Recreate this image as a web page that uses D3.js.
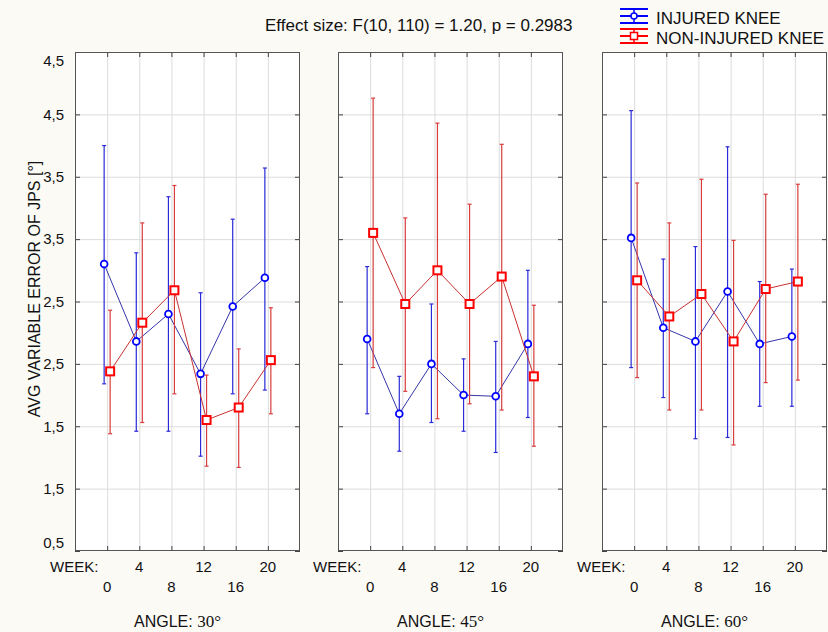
<!DOCTYPE html>
<html>
<head>
<meta charset="utf-8">
<script src="https://cdn.jsdelivr.net/npm/d3@7"></script>
<style>
  body { margin: 0; background: #fcfaf5; }
  svg { display: block; font-family: "Liberation Sans", Arial, sans-serif; }
  .grid line { stroke: #dcdcdc; }
  .grid path { display: none; }
  .tk line { stroke: #444; }
  .tk path { display: none; }
</style>
</head>
<body>
<svg id="chart"></svg>
<script>
var width = 828, height = 632;

// data
var weeks = [0, 4, 8, 12, 16, 20];
var angles = ["30°", "45°", "60°"];
var yTicks = [0.5, 1, 1.5, 2, 2.5, 3, 3.5, 4, 4.5];
var yTickLabels = ["0,5", "1,5", "1,5", "2,5", "2,5", "3,5", "3,5", "4,5", "4,5"];

// one row per angle (30, 45, 60)
var injuredMean = [
    [2.80, 2.18, 2.40, 1.92, 2.46, 2.69],
    [2.20, 1.60, 2.00, 1.75, 1.74, 2.16],
    [3.01, 2.29, 2.18, 2.58, 2.16, 2.22]
];
var injuredHigh = [
    [3.75, 2.89, 3.34, 2.57, 3.16, 3.57],
    [2.78, 1.90, 2.48, 2.04, 2.18, 2.75],
    [4.03, 2.84, 2.94, 3.74, 2.66, 2.76]
];
var injuredLow = [
    [1.84, 1.46, 1.46, 1.26, 1.76, 1.79],
    [1.60, 1.30, 1.53, 1.46, 1.29, 1.57],
    [1.97, 1.73, 1.40, 1.41, 1.66, 1.66]
];
var nonInjuredMean = [
    [1.94, 2.33, 2.59, 1.55, 1.65, 2.03],
    [3.05, 2.48, 2.75, 2.48, 2.70, 1.90],
    [2.67, 2.38, 2.56, 2.18, 2.60, 2.66]
];
var nonInjuredHigh = [
    [2.43, 3.13, 3.43, 1.91, 2.12, 2.45],
    [4.13, 3.17, 3.93, 3.28, 3.76, 2.47],
    [3.45, 3.13, 3.48, 2.99, 3.36, 3.44]
];
var nonInjuredLow = [
    [1.44, 1.53, 1.76, 1.18, 1.17, 1.60],
    [1.97, 1.78, 1.56, 1.68, 1.63, 1.34],
    [1.89, 1.63, 1.63, 1.35, 1.85, 1.87]
];

var panelLeft = [75, 338, 602];
var panelW = 225, plotTop = 52, plotBottom = 551;

var svg = d3.select("#chart")
    .attr("width", width)
    .attr("height", height);

var y = d3.scaleLinear().domain([0.5, 4.5]).range([plotBottom, plotTop]);

var series = [
    {name: "INJURED KNEE", mean: injuredMean, hi: injuredHigh, lo: injuredLow,
     color: "#0000ff", bar: "#2a2ad8", line: "#3535a8", shift: -3, shape: "circle"},
    {name: "NON-INJURED KNEE", mean: nonInjuredMean, hi: nonInjuredHigh, lo: nonInjuredLow,
     color: "#ff0000", bar: "#d83c3c", line: "#c83030", shift: 3, shape: "square"}
];

angles.forEach(function(angle, p) {
    var x0 = panelLeft[p];
    var x = d3.scalePoint().domain(weeks).range([x0, x0 + panelW]).padding(1);
    var g = svg.append("g");

    g.append("rect")
        .attr("x", x0).attr("y", plotTop)
        .attr("width", panelW).attr("height", plotBottom - plotTop)
        .attr("fill", "#fff");

    // gridlines
    g.append("g").attr("class", "grid")
        .attr("transform", `translate(${x0},0)`)
        .call(d3.axisLeft(y).tickValues(yTicks.slice(1, -1)).tickSize(-panelW).tickFormat(""));
    g.append("g").attr("class", "grid")
        .attr("transform", `translate(0,${plotBottom})`)
        .call(d3.axisBottom(x).tickSize(-(plotBottom - plotTop)).tickFormat(""));

    // inward ticks on all four sides
    g.append("g").attr("class", "tk").attr("transform", `translate(${x0},0)`)
        .call(d3.axisLeft(y).tickValues(yTicks).tickSize(-5).tickFormat(""));
    g.append("g").attr("class", "tk").attr("transform", `translate(${x0 + panelW},0)`)
        .call(d3.axisRight(y).tickValues(yTicks).tickSize(-5).tickFormat(""));
    g.append("g").attr("class", "tk").attr("transform", `translate(0,${plotTop})`)
        .call(d3.axisTop(x).tickSize(-5).tickFormat(""));
    g.append("g").attr("class", "tk").attr("transform", `translate(0,${plotBottom})`)
        .call(d3.axisBottom(x).tickSize(-5).tickFormat(""));

    g.append("rect")
        .attr("x", x0 + 0.5).attr("y", plotTop + 0.5)
        .attr("width", panelW - 1).attr("height", plotBottom - plotTop - 1)
        .attr("fill", "none").attr("stroke", "#555");

    series.forEach(function(s) {
        var pts = weeks.map(function(w, i) {
            return {x: x(w) + s.shift, m: s.mean[p][i], hi: s.hi[p][i], lo: s.lo[p][i]};
        });
        var sg = g.append("g");
        // error bars
        var eb = sg.selectAll(".eb").data(pts).enter().append("g")
            .attr("stroke", s.bar).attr("stroke-width", 1.2);
        eb.append("line")
            .attr("x1", d => d.x).attr("x2", d => d.x)
            .attr("y1", d => y(d.hi)).attr("y2", d => y(d.lo));
        eb.append("line")
            .attr("x1", d => d.x - 2).attr("x2", d => d.x + 2)
            .attr("y1", d => y(d.hi)).attr("y2", d => y(d.hi));
        eb.append("line")
            .attr("x1", d => d.x - 2).attr("x2", d => d.x + 2)
            .attr("y1", d => y(d.lo)).attr("y2", d => y(d.lo));
        // connecting line
        sg.append("path")
            .datum(pts)
            .attr("fill", "none").attr("stroke", s.line).attr("stroke-width", 1)
            .attr("d", d3.line().x(d => d.x).y(d => y(d.m)));
        // markers
        if (s.shape == "circle") {
            sg.selectAll(".mk").data(pts).enter().append("circle")
                .attr("cx", d => d.x).attr("cy", d => y(d.m)).attr("r", 3.4)
                .attr("fill", "#fff").attr("stroke", s.color).attr("stroke-width", 1.8);
        } else {
            sg.selectAll(".mk").data(pts).enter().append("rect")
                .attr("x", d => d.x - 4).attr("y", d => y(d.m) - 4)
                .attr("width", 8).attr("height", 8)
                .attr("fill", "#fff").attr("stroke", s.color).attr("stroke-width", 2);
        }
    });

    // x labels, staggered in two rows
    g.append("text")
        .attr("x", x0 - 25).attr("y", 572)
        .attr("font-size", 15).attr("fill", "#111")
        .text("WEEK:");
    g.selectAll(".wk").data(weeks).enter().append("text")
        .attr("x", d => x(d))
        .attr("y", (d, i) => i % 2 ? 572 : 592)
        .attr("text-anchor", "middle")
        .attr("font-size", 15).attr("fill", "#111")
        .text(d => d);

    var at = g.append("text")
        .attr("x", x0 + panelW / 2 - 10).attr("y", 627)
        .attr("text-anchor", "middle")
        .attr("font-size", 16).attr("fill", "#111");
    at.append("tspan").text("ANGLE: ");
    at.append("tspan")
        .attr("font-family", "'Liberation Serif', 'Times New Roman', serif")
        .attr("font-size", 17)
        .text(angle);
});

// y tick labels on first panel
svg.append("g").selectAll("text").data(yTicks).enter().append("text")
    .attr("x", 64)
    .attr("y", d => y(d))
    .attr("dy", (d, i) => i == 0 ? "-0.2em" : (i == yTicks.length - 1 ? "0.9em" : "0.35em"))
    .attr("text-anchor", "end")
    .attr("font-size", 15).attr("fill", "#111")
    .text((d, i) => yTickLabels[i]);

svg.append("text")
    .attr("transform", "translate(40,289) rotate(-90)")
    .attr("text-anchor", "middle")
    .attr("font-size", 16).attr("fill", "#111")
    .text("AVG VARIABLE ERROR OF JPS [°]");

svg.append("text")
    .attr("x", 265).attr("y", 31)
    .attr("font-size", 17).attr("fill", "#111")
    .text("Effect size: F(10, 110) = 1.20, p = 0.2983");

// legend
var leg = svg.append("g").selectAll("g").data(series).enter().append("g")
    .attr("transform", (d, i) => `translate(620,${16 + i * 20})`);
leg.each(function(s) {
    var l = d3.select(this);
    [-7, 0, 7].forEach(function(dy) {
        l.append("line").attr("x1", 0).attr("x2", 28).attr("y1", dy).attr("y2", dy)
            .attr("stroke", s.color).attr("stroke-width", 2);
    });
    l.append("line").attr("x1", 14).attr("x2", 14).attr("y1", -7).attr("y2", 7)
        .attr("stroke", s.color).attr("stroke-width", 1.5);
    if (s.shape == "circle") {
        l.append("circle").attr("cx", 14).attr("cy", 0).attr("r", 3)
            .attr("fill", "#fff").attr("stroke", s.color).attr("stroke-width", 1.5);
    } else {
        l.append("rect").attr("x", 10.5).attr("y", -3.5).attr("width", 7).attr("height", 7)
            .attr("fill", "#fff").attr("stroke", s.color).attr("stroke-width", 1.5);
    }
    l.append("text").attr("x", 36).attr("y", 8)
        .attr("font-size", 17).attr("fill", "#111")
        .text(s.name);
});
</script>
</body>
</html>
